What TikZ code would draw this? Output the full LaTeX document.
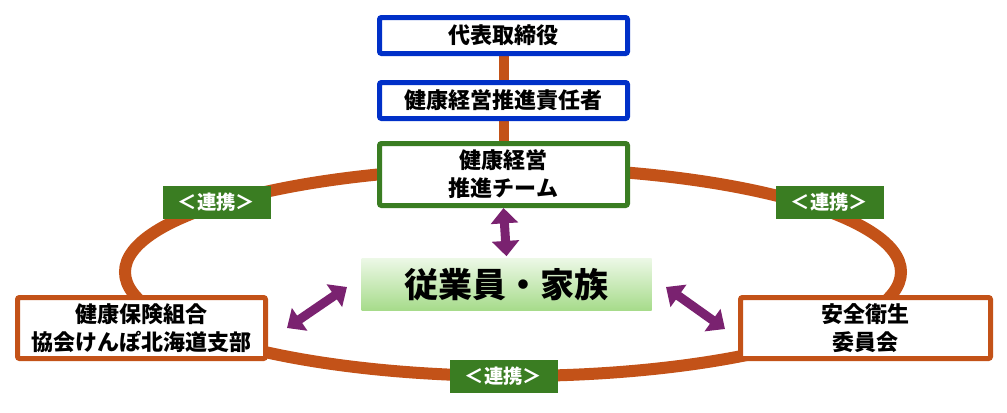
\documentclass[tikz,border=0pt]{standalone}
\usepackage{fontspec}
\setmainfont{Noto Sans CJK JP}
\usetikzlibrary{arrows.meta,positioning,backgrounds}
\definecolor{topblue}{RGB}{0,48,200}
\definecolor{teamgreen}{RGB}{58,125,34}
\definecolor{linkorange}{RGB}{195,82,24}
\definecolor{arrowpurple}{RGB}{122,34,112}
\definecolor{famtop}{RGB}{236,248,230}
\definecolor{fambottom}{RGB}{166,219,138}

\begin{document}
\begin{tikzpicture}[x=0.75pt, y=-0.75pt,
    bluebox/.style={draw=topblue, line width=3.75pt, fill=white, rounded corners=1.5pt, minimum width=186pt, minimum height=27pt, inner sep=0pt, font=\fontsize{16.5}{21}\selectfont\bfseries},
    greenbox/.style={bluebox, draw=teamgreen, minimum height=46.5pt, align=center},
    sidebox/.style={bluebox, draw=linkorange, minimum height=45.75pt, align=center},
    linkbox/.style={fill=teamgreen, text=white, minimum width=81pt, minimum height=24.75pt, inner sep=0pt, font=\fontsize{14.5}{16}\selectfont\bfseries},
    famarrow/.style={arrowpurple, line width=6.75pt, {Triangle[width=20pt, length=11.5pt]}-{Triangle[width=20pt, length=11.5pt]}},
  ]
    \useasboundingbox (0,0) rectangle (1007,412);
    \node[bluebox] (ceo) at (503.5,35.5) {代表取締役};
    \node[bluebox, below of=ceo, node distance=48.75pt] (lead) {健康経営推進責任者};
    \node[greenbox, below of=lead, node distance=55.5pt] (team) {健康経営\\推進チーム};

    \node[sidebox] (kenpo) at (141.5,328) {健康保険組合\\協会けんぽ北海道支部};
    \node[sidebox, minimum width=187.5pt] (safety) at (865.5,328) {安全衛生\\委員会};
    \node[top color=famtop, bottom color=fambottom, minimum width=217.5pt, minimum height=39pt, inner sep=0pt, font=\fontsize{25.5}{28}\selectfont\bfseries] (family) at (506.5,284.5) {従業員・家族};

    % ring and chain behind the boxes
    \begin{scope}[on background layer]
      \draw[linkorange, line width=9pt] (513,272) ellipse [x radius=291pt, y radius=78pt];
      \draw[linkorange, line width=7.5pt] (ceo.south) -- (lead.north);
      \draw[linkorange, line width=7.5pt] (lead.south) -- (team.north);
    \end{scope}

    \node[linkbox] (linkl) at (216.5,202) {＜連携＞};
    \node[linkbox] (linkr) at (829.5,202.5) {＜連携＞};
    \node[linkbox] (linkb) at (503.5,376.5) {＜連携＞};

    \coordinate (kl) at (287,328);
    \coordinate (fl) at (347,287);
    \coordinate (fr) at (666,287);
    \coordinate (sr) at (725,329);
    \draw[famarrow] (team.south) -- ([yshift=1.5pt]family.north);
    \draw[famarrow] (kl) -- (fl);
    \draw[famarrow] (fr) -- (sr);
  \end{tikzpicture}
\end{document}
